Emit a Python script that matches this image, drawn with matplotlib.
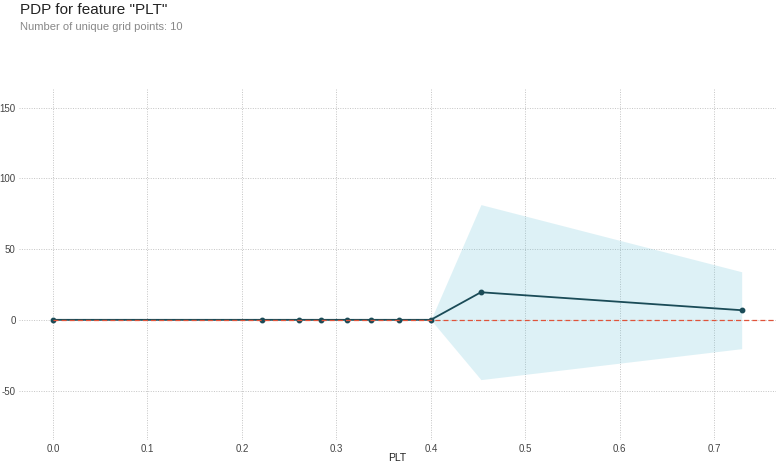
import matplotlib
matplotlib.use("Agg")
import matplotlib.pyplot as plt

# grid points of feature PLT and partial dependence values
grid_x = [0.0, 0.2212, 0.2603, 0.2836, 0.3111, 0.3365, 0.3661, 0.4, 0.453, 0.729]
pdp_y = [0.0, 0.0, 0.0, 0.0, 0.0, 0.0, 0.0, 0.0, 19.5, 6.8]
upper_y = [0.0, 0.0, 0.0, 0.0, 0.0, 0.0, 0.0, 0.0, 81.5, 34.0]
lower_y = [0.0, 0.0, 0.0, 0.0, 0.0, 0.0, 0.0, 0.0, -42.3, -20.4]

x_ticks = [0.0, 0.1, 0.2, 0.3, 0.4, 0.5, 0.6, 0.7]
y_ticks = [-50, 0, 50, 100, 150]

plt.rcParams["font.family"] = ["Liberation Sans", "DejaVu Sans"]
plt.rcParams["axes.unicode_minus"] = False

fig = plt.figure(figsize=(7.78, 4.63), dpi=100)
ax = fig.add_axes([0.0244, 0.0497, 0.9726, 0.7603])

# confidence band
ax.fill_between(grid_x, lower_y, upper_y, color="#66C2D7", alpha=0.22,
	linewidth=0, zorder=1)

# zero reference line
x_min, x_max = -0.036, 0.765
ax.plot([grid_x[0], x_max], [0, 0], color="#E0533A", linestyle=(0, (4, 2.5)),
	linewidth=0.9, zorder=3)

# pdp line
ax.plot(grid_x, pdp_y, color="#1A4B57", linewidth=1.3, marker="o",
	markersize=3.2, zorder=2)

ax.set_xlim(x_min, x_max)
ax.set_ylim(-85, 164)
ax.set_xticks(x_ticks)
ax.set_xticklabels(["%.1f" % t for t in x_ticks])
ax.set_yticks(y_ticks)

for side in ["top", "right", "bottom", "left"]:
	ax.spines[side].set_visible(False)
ax.tick_params(axis="both", length=0, labelsize=7, colors="#444444")
ax.tick_params(axis="y", pad=2.5)
ax.tick_params(axis="x", pad=3)
ax.grid(True, linestyle=(0, (1, 1.5)), color="#c4c4c4", linewidth=0.7, zorder=0)
ax.set_axisbelow(True)

fig.text(397.5 / 778, 1 - 458 / 463, "PLT", fontsize=7.5, color="#222222",
	va="center", ha="center")

fig.text(20 / 778, 1 - 10 / 463, 'PDP for feature "PLT"', fontsize=11,
	color="#222222", va="center", ha="left")
fig.text(20 / 778, 1 - 27 / 463, "Number of unique grid points: 10",
	fontsize=8, color="#888888", va="center", ha="left")

fig.savefig("out.png", dpi=100)
